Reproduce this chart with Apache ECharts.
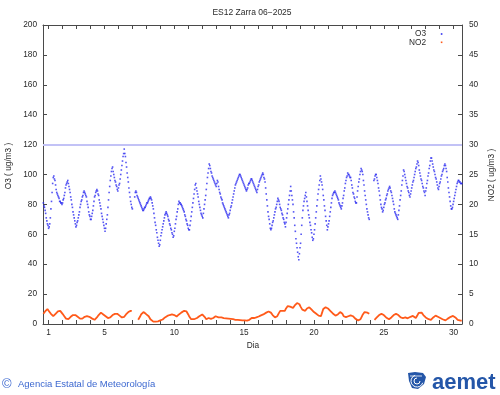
<!DOCTYPE html>
<html>
<head>
<meta charset="utf-8">
<script src="https://cdn.jsdelivr.net/npm/echarts@6/dist/echarts.min.js"></script>
<style>
html,body{margin:0;padding:0;background:#fff;}
#chart{width:500px;height:395px;}
</style>
</head>
<body>
<div id="chart"></div>
<script>
// ---- data (hourly values, 24 per row) ----
const titleText = 'ES12 Zarra 06\u22122025';
const seriesNames = ['O3', 'NO2'];
const startDay = 0.625;          // first hourly sample on the day axis
const hoursPerDay = 24;
const dayLabels = [1, 5, 10, 15, 20, 25, 30];
const dayTicks = [1,2,3,4,5,6,7,8,9,10,11,12,13,14,15,16,17,18,19,20,21,22,23,24,25,26,27,28,29,30];

const o3 = [
81,79,78,76,74,71,69,67,66,64,65,67,71,77,82,88,94,98,99,97,96,93,90,88,
87,86,85,84,82,82,81,81,80,81,83,84,86,88,91,93,94,95,96,94,92,90,88,85,
83,80,78,75,73,71,69,67,65,66,68,69,71,73,75,78,80,82,83,85,86,88,89,88,
87,86,85,82,80,78,75,73,72,70,70,72,74,76,79,82,85,86,88,89,90,89,87,86,
83,81,79,77,74,72,70,68,66,64,62,64,67,70,73,78,83,88,92,96,99,102,104,105,
102,100,98,96,95,93,92,90,89,91,93,94,97,100,103,106,109,112,114,117,114,112,108,105,
101,98,95,91,88,85,82,80,78,77,null,null,null,85,88,89,88,86,85,84,83,82,81,80,
79,78,77,76,76,77,78,78,79,80,81,81,82,83,84,84,85,84,83,81,79,77,74,71,
68,66,63,61,58,56,54,52,53,56,59,61,63,65,67,69,71,73,74,75,74,73,72,70,
69,67,66,64,63,61,60,58,59,62,64,67,70,72,75,77,80,82,81,81,80,80,79,78,
77,76,75,73,72,70,69,67,66,64,63,63,66,69,72,75,78,81,84,87,90,93,94,91,
89,87,85,82,80,78,76,74,73,72,71,74,77,80,83,86,90,94,98,101,104,107,106,104,
102,101,99,98,97,96,95,94,93,92,94,96,95,92,90,88,87,85,84,83,81,80,79,78,
77,76,75,74,73,72,71,73,74,76,78,79,81,83,85,87,89,91,93,94,95,96,97,98,
99,100,100,99,98,97,96,95,94,93,92,91,90,89,90,91,93,94,94,95,96,97,97,96,
95,94,93,92,91,90,89,88,90,92,93,95,96,97,98,99,100,101,100,98,97,95,91,87,
83,79,75,72,70,67,64,63,64,66,68,69,71,73,75,77,78,80,82,84,83,82,80,78,
77,76,74,73,71,70,68,67,65,68,71,74,77,80,83,86,89,92,89,86,83,80,75,71,
66,62,57,54,51,48,45,43,47,51,54,60,66,71,76,79,82,84,86,88,85,82,79,76,
73,71,68,66,63,61,58,56,57,60,63,67,71,75,79,83,87,90,93,96,99,97,95,93,
90,86,83,79,76,72,69,66,63,65,67,69,72,75,78,81,84,86,87,88,88,89,88,87,
86,85,84,83,81,80,79,78,77,79,81,84,86,89,91,94,96,98,99,101,100,100,99,98,
98,96,93,91,88,87,85,84,82,81,81,85,89,92,95,97,100,102,104,103,102,100,96,93,
89,86,83,80,77,75,73,71,70,null,null,null,null,null,null,null,96,97,99,100,100,98,96,94,
91,89,86,83,80,78,77,75,76,78,80,81,83,84,86,87,89,90,91,92,91,89,88,86,
84,82,80,77,75,74,73,72,71,70,73,76,79,83,86,89,93,96,99,103,102,100,98,96,
94,92,91,89,88,86,85,87,89,91,93,95,96,98,100,102,104,105,107,109,108,106,103,101,
99,97,96,94,92,91,89,88,86,89,91,94,96,99,101,104,106,109,111,111,109,107,105,103,
102,100,98,97,95,93,91,90,92,94,95,97,99,100,102,103,104,106,107,106,104,102,98,95,
91,88,85,82,79,77,77,78,80,82,84,86,88,90,92,94,95,96,96,95,95,94,94,94
];

const no2 = [
1.7,1.9,2.0,2.1,2.2,2.3,2.4,2.5,2.5,2.3,2.1,2.0,1.8,1.7,1.6,1.5,1.4,1.3,1.3,1.5,1.6,1.7,1.8,1.9,
2.0,2.1,2.1,2.2,2.2,2.2,2.1,2.0,1.9,1.7,1.6,1.4,1.3,1.1,1.0,0.9,0.8,0.7,0.7,0.8,0.9,1.0,1.1,1.2,
1.3,1.4,1.4,1.5,1.5,1.5,1.5,1.5,1.4,1.3,1.3,1.2,1.1,1.1,1.0,0.9,0.9,0.8,0.8,0.9,1.0,1.0,1.1,1.2,
1.2,1.3,1.3,1.3,1.4,1.4,1.3,1.2,1.2,1.1,1.0,1.0,0.9,0.9,0.8,0.8,0.7,0.7,0.8,0.9,1.1,1.2,1.4,1.5,
1.6,1.7,1.8,1.9,1.9,1.8,1.7,1.6,1.5,1.5,1.4,1.3,1.2,1.1,1.1,1.0,1.0,0.95,1.0,1.1,1.2,1.3,1.4,1.5,
1.5,1.6,1.6,1.7,1.7,1.7,1.7,1.7,1.6,1.5,1.5,1.4,1.3,1.2,1.2,1.1,1.1,1.0,1.1,1.2,1.3,1.5,1.6,1.7,
1.8,1.9,2.0,2.1,2.2,2.2,2.2,2.2,2.2,null,null,null,null,null,null,null,null,null,null,0.7,0.8,1.0,1.2,1.4,
1.6,1.7,1.8,1.9,2.0,2.0,1.9,1.8,1.7,1.6,1.5,1.4,1.4,1.3,1.2,1.0,0.8,0.7,0.6,0.5,0.5,0.4,0.4,0.4,
0.4,0.4,0.4,0.4,0.45,0.45,0.5,0.5,0.55,0.6,0.65,0.7,0.7,0.75,0.8,0.9,1.0,1.1,1.2,1.3,1.3,1.35,1.4,1.4,
1.4,1.5,1.5,1.5,1.5,1.6,1.6,1.7,1.6,1.5,1.4,1.3,1.3,1.25,1.3,1.4,1.5,1.6,1.7,1.8,1.8,1.9,2.0,2.0,
2.1,2.1,2.2,2.2,2.2,2.2,2.1,2.0,1.8,1.6,1.4,1.2,1.0,0.9,0.8,0.7,0.7,0.7,0.75,0.8,0.9,0.9,0.95,1.0,
1.0,1.1,1.1,1.2,1.3,1.3,1.4,1.5,1.5,1.6,1.6,1.6,1.4,1.2,1.0,0.9,0.8,0.8,0.9,0.9,1.0,1.0,0.9,0.9,
0.85,0.8,0.8,0.9,1.0,1.1,1.2,1.2,1.3,1.3,1.3,1.2,1.2,1.1,1.1,1.1,1.0,1.0,1.1,1.1,1.0,1.0,1.0,1.0,
1.0,0.95,0.95,0.9,0.9,0.9,0.9,0.85,0.85,0.85,0.85,0.8,0.8,0.8,0.8,0.75,0.75,0.75,0.7,0.7,0.7,0.7,0.7,0.7,
0.7,0.7,0.65,0.65,0.7,0.65,0.6,0.6,0.65,0.6,0.6,0.55,0.55,0.6,0.55,0.5,0.55,0.6,0.7,0.85,0.95,1.0,1.0,1.0,
1.0,1.05,1.0,1.05,1.1,1.1,1.1,1.1,1.15,1.2,1.25,1.3,1.35,1.4,1.45,1.5,1.5,1.55,1.6,1.7,1.75,1.8,1.85,1.9,
1.95,2.0,2.05,2.1,2.1,2.1,2.0,1.9,1.7,1.6,1.5,1.4,1.3,1.2,1.1,1.0,1.0,1.1,1.3,1.5,1.7,1.9,2.0,2.2,
2.3,2.3,2.3,2.2,2.2,2.1,2.1,2.2,2.4,2.6,2.7,2.9,3.0,3.1,3.2,3.1,2.9,2.8,2.7,2.6,2.6,2.7,2.9,3.0,
3.1,3.2,3.3,3.4,3.5,3.6,3.6,3.5,3.3,3.1,2.9,2.7,2.6,2.4,2.3,2.2,2.1,2.1,2.2,2.4,2.5,2.6,2.7,2.8,
2.8,2.8,2.7,2.6,2.5,2.4,2.3,2.2,2.1,2.0,1.9,1.8,1.8,1.7,1.6,1.5,1.5,1.4,1.4,1.3,1.3,1.3,1.6,1.9,
2.2,2.5,2.7,2.8,2.8,2.8,2.8,2.75,2.7,2.6,2.5,2.4,2.3,2.2,2.1,2.0,1.9,1.8,1.7,1.6,1.5,1.5,1.4,1.3,
1.3,1.4,1.6,1.7,1.8,1.9,2.0,2.1,2.1,1.9,1.7,1.5,1.3,1.2,1.1,1.1,1.15,1.2,1.2,1.25,1.3,1.3,1.35,1.4,
1.45,1.5,1.5,1.4,1.3,1.2,1.1,1.0,0.9,0.8,0.75,0.7,0.65,0.6,0.55,0.55,0.6,0.8,1.0,1.2,1.4,1.6,1.8,1.9,
2.0,2.1,2.1,2.0,2.0,1.9,1.8,1.8,1.7,null,null,null,null,null,null,null,null,0.7,0.8,0.9,1.0,1.1,1.2,1.3,
1.4,1.5,1.5,1.6,1.6,1.7,1.7,1.65,1.6,1.5,1.4,1.3,1.2,1.1,1.0,1.0,0.9,0.85,0.8,0.8,0.9,1.0,1.1,1.2,
1.3,1.4,1.5,1.55,1.6,1.65,1.7,1.7,1.65,1.6,1.5,1.4,1.3,1.2,1.1,1.05,1.0,1.0,1.0,1.0,1.05,1.1,1.1,1.05,
1.0,1.0,0.95,1.0,1.0,1.1,1.15,1.2,1.25,1.3,1.35,1.35,1.25,1.15,1.05,1.0,1.0,1.1,1.3,1.5,1.7,1.85,1.95,2.0,
2.0,2.0,1.9,1.8,1.6,1.5,1.4,1.3,1.2,1.1,1.0,0.95,0.9,0.85,0.8,0.75,0.7,0.65,0.7,0.8,0.9,1.0,1.1,1.2,
1.3,1.35,1.4,1.4,1.35,1.3,1.2,1.15,1.1,1.1,1.0,0.95,0.9,0.85,0.8,0.7,0.65,0.6,0.55,0.6,0.65,0.7,0.8,0.9,
0.95,1.0,1.1,1.15,1.2,1.25,1.3,1.3,1.35,1.35,1.3,1.2,1.1,1.0,0.9,0.8,0.7,0.6,0.55,0.55,0.55,0.55,0.55,0.55
];

const o3Limit = 120;

// ---- build ----
function pairs(arr) {
  return arr.map((v, i) => [startDay + i / hoursPerDay, v]);
}

const FONT = '"Liberation Sans", Arial, sans-serif';
const TXT = '#2a2a2a';
const AX = '#4a4a4a';
const FS = 8.3;

const chart = echarts.init(document.getElementById('chart'), null, {renderer: 'canvas'});

const xCommon = {
  type: 'value', min: 0.6, max: 30.6,
  axisLine: {show: true, onZero: false, lineStyle: {color: AX, width: 1}},
  axisTick: {show: true, inside: true, length: 4, customValues: dayTicks, lineStyle: {color: AX}},
  splitLine: {show: false}
};

const option = {
  animation: false,
  backgroundColor: '#ffffff',
  grid: {left: 43, right: 38, top: 25, bottom: 71, containLabel: false},
  xAxis: [
    Object.assign({}, xCommon, {
      position: 'bottom',
      axisLabel: {show: true, customValues: dayLabels, margin: 5, fontSize: FS, color: TXT, fontFamily: FONT}
    }),
    Object.assign({}, xCommon, {
      position: 'top',
      axisLabel: {show: false}
    })
  ],
  yAxis: [
    {
      type: 'value', min: 0, max: 200, interval: 20, position: 'left',
      axisLine: {show: true, lineStyle: {color: AX}},
      axisTick: {show: true, inside: true, length: 4, lineStyle: {color: AX}},
      axisLabel: {margin: 6, fontSize: FS, color: TXT, fontFamily: FONT},
      splitLine: {show: false}
    },
    {
      type: 'value', min: 0, max: 50, interval: 5, position: 'right',
      axisLine: {show: true, lineStyle: {color: AX}},
      axisTick: {show: true, inside: true, length: 4, lineStyle: {color: AX}},
      axisLabel: {margin: 7, fontSize: FS, color: TXT, fontFamily: FONT},
      splitLine: {show: false}
    }
  ],
  series: [
    {
      name: seriesNames[0], type: 'scatter', xAxisIndex: 0, yAxisIndex: 0,
      data: pairs(o3), symbol: 'rect', symbolSize: 1.6,
      itemStyle: {color: '#2a2af0'},
      markLine: {
        silent: true, symbol: 'none', label: {show: false},
        lineStyle: {color: '#c2c2f6', width: 2, type: 'solid'},
        data: [{yAxis: o3Limit}]
      },
      z: 3
    },
    {
      name: seriesNames[1], type: 'line', xAxisIndex: 0, yAxisIndex: 1,
      data: pairs(no2), showSymbol: false, connectNulls: false,
      lineStyle: {color: '#ff5a1a', width: 1.8},
      itemStyle: {color: '#ff5a1a'},
      z: 4
    }
  ],
  graphic: [
    {type: 'text', x: 252, y: 13, style: {text: titleText, fontSize: 8.5, fontFamily: FONT, fill: TXT, align: 'center', verticalAlign: 'middle'}},
    {type: 'text', x: 9, y: 166, rotation: Math.PI / 2, style: {text: 'O3 ( ug/m3 )', fontSize: FS, fontFamily: FONT, fill: TXT, align: 'center', verticalAlign: 'middle'}},
    {type: 'text', x: 492, y: 175, rotation: Math.PI / 2, style: {text: 'NO2 ( ug/m3 )', fontSize: FS, fontFamily: FONT, fill: TXT, align: 'center', verticalAlign: 'middle'}},
    {type: 'text', x: 253, y: 346, style: {text: 'Dia', fontSize: FS, fontFamily: FONT, fill: TXT, align: 'center', verticalAlign: 'middle'}},
    // legend
    {type: 'text', x: 426, y: 34, style: {text: seriesNames[0], fontSize: FS, fontFamily: FONT, fill: TXT, align: 'right', verticalAlign: 'middle'}},
    {type: 'rect', shape: {x: 440.8, y: 33.2, width: 1.6, height: 1.6}, style: {fill: '#2a2af0'}},
    {type: 'text', x: 426, y: 42.3, style: {text: seriesNames[1], fontSize: FS, fontFamily: FONT, fill: TXT, align: 'right', verticalAlign: 'middle'}},
    {type: 'rect', shape: {x: 440.8, y: 41.5, width: 1.6, height: 1.6}, style: {fill: '#ff5a1a'}},
    // footer
    {type: 'text', x: 2, y: 384, style: {text: '\u00A9', fontSize: 13, fontFamily: FONT, fill: '#3c68d0', align: 'left', verticalAlign: 'middle'}},
    {type: 'text', x: 18, y: 384, style: {text: 'Agencia Estatal de Meteorolog\u00EDa', fontSize: 9.5, fontFamily: FONT, fill: '#3c68d0', align: 'left', verticalAlign: 'middle'}},
    // logo icon
    {type: 'group', x: 408, y: 372, children: [
      {type: 'polygon', shape: {points: [[0,1],[7,0],[15,1],[18,5],[16,12],[10,17],[4,16],[1,9]]}, style: {fill: '#2456a8'}},
      {type: 'arc', shape: {cx: 9, cy: 9, r: 3, startAngle: 0, endAngle: Math.PI * 1.5}, style: {stroke: '#ffffff', lineWidth: 1, fill: null}},
      {type: 'arc', shape: {cx: 9, cy: 9, r: 6, startAngle: 0.3, endAngle: Math.PI * 1.4}, style: {stroke: '#ffffff', lineWidth: 1, fill: null}},
      {type: 'line', shape: {x1: 2, y1: 4, x2: 14, y2: 4}, style: {stroke: '#ffffff', lineWidth: 0.8}}
    ]},
    {type: 'text', x: 432, y: 383, style: {text: 'aemet', fontSize: 22, fontWeight: 'bold', fontFamily: FONT, fill: '#2456a8', align: 'left', verticalAlign: 'middle'}}
  ]
};

chart.setOption(option);
</script>
</body>
</html>
